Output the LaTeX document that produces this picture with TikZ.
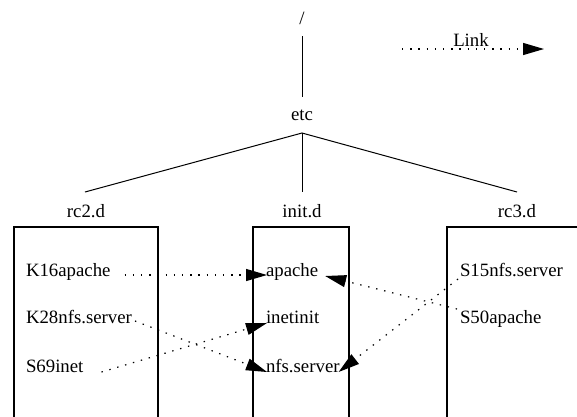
\documentclass[tikz,border=0pt]{standalone}
\usepackage{fontspec}
\setmainfont{Liberation Serif}
\usetikzlibrary{arrows.meta,calc}
\begin{document}
\begin{tikzpicture}[x=1pt,y=-1pt,
  lbl/.style={inner sep=0pt,outer sep=0pt,font=\fontsize{18.8}{22}\selectfont},
  entry/.style={lbl,anchor=base west},
  tree/.style={line width=1pt},
  dirbox/.style={line width=1.1pt},
  link/.style={line width=1.2pt,dash pattern=on 1.4pt off 6.8pt,
               -{Triangle[length=21pt,width=12pt]}}]
\useasboundingbox (0,0) rectangle (577,416);

% directory tree
\node[lbl] (root) at (302,18) {/};
\node[lbl,anchor=base] (etc) at (302,120) {etc};
\node[lbl,anchor=base] (rc2) at (86,217) {rc2.d};
\node[lbl,anchor=base] (init) at (302,217) {init.d};
\node[lbl,anchor=base] (rc3) at (517,217) {rc3.d};

\draw[tree] ($(root.center)+(0,18)$) -- ($(etc.base)+(0,-23)$);
\coordinate (apex) at ($(etc.base)+(0,13)$);
\draw[tree] ($(rc2.base)+(-1,-25)$) -- (apex) -- ($(rc3.base)+(0,-25)$);
\draw[tree] (apex) -- ($(init.base)+(0,-25)$);

% directory boxes (open at the bottom)
\draw[dirbox] (14,418) -- (14,227) -- (158,227) -- (158,418);
\draw[dirbox] (253,418) -- (253,227) -- (349,227) -- (349,418);
\draw[dirbox] (447,418) -- (447,227) -- (580,227);

% directory entries
\node[entry] (k16) at (26,276) {K16apache};
\node[entry] (k28) at (26,323) {K28nfs.server};
\node[entry] (s69) at (26,372) {S69inet};

\node[entry] (apache) at (266,276) {apache};
\node[entry] (inetinit) at (266,323) {inetinit};
\node[entry] (nfs) at (266,372) {nfs.server};

\node[entry] (s15) at (460,276) {S15nfs.server};
\node[entry] (s50) at (460,323) {S50apache};

% symbolic links
\draw[link] ($(k16.base east)+(14,-1)$) -- ($(apache.base west)+(1,-1)$);
\draw[link] ($(k28.base east)+(3,-2)$) -- ($(nfs.base west)+(1,0)$);
\draw[link] ($(s69.base east)+(18,0)$) -- ($(inetinit.base west)+(1,0)$);
\draw[link] ($(s50.base west)+(-3,-14)$) -- ($(apache.base east)+(7,0)$);
\draw[link] ($(s15.base west)+(-2,3)$) -- ($(nfs.base east)+(-1,0)$);

% legend
\node[lbl,anchor=base] (linklbl) at (471,46) {Link};
\coordinate (legA) at (402,49);
\coordinate (legB) at (544,49);
\draw[link] (legA) -- (legB);
\end{tikzpicture}
\end{document}
